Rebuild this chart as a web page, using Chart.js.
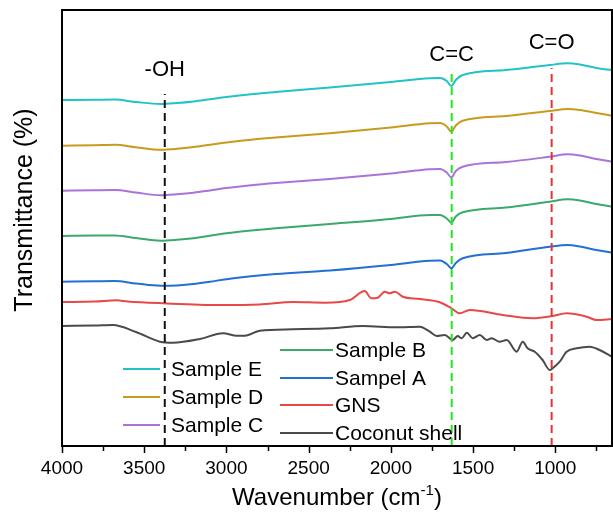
<!DOCTYPE html>
<html>
<head>
<meta charset="utf-8">
<script src="https://cdn.jsdelivr.net/npm/chart.js@4.4.0/dist/chart.umd.min.js"></script>
<style>
  html, body { margin: 0; padding: 0; background: #fff; }
  #wrap { width: 613px; height: 517px; position: relative; }
</style>
</head>
<body>
<div id="wrap"><canvas id="c" width="613" height="517"></canvas></div>
<script>
// ---- Data (arbitrary transmittance units, spectra are offset) ----
const seriesNames = ["Sample E", "Sample D", "Sample C", "Sample B", "Sampel A", "GNS", "Coconut shell"];
const seriesColors = ["#22c3c8", "#c89b1e", "#a874da", "#3ca96b", "#2170d6", "#e84848", "#4a4a4a"];

const samplesX = [4000, 3800, 3680, 3550, 3400, 3300, 3200, 3100, 3000, 2850, 2700, 2371, 2000, 1763, 1700, 1660, 1632, 1605, 1563, 1300, 1034, 925, 850, 750, 655];
const sampleE = [346, 346.2, 346.5, 344, 342, 343, 344.6, 346.8, 349, 351.8, 354, 358.5, 364, 367.7, 368, 365, 360, 366, 371, 376, 381, 382.7, 381.5, 378, 376];
const sampleD = [300.3, 300.8, 301.2, 298.8, 296.3, 297.2, 298.9, 301.2, 303.5, 306.3, 308.5, 312.8, 318.5, 322.7, 323, 319.5, 314.3, 320.5, 325.3, 330, 335, 337, 336, 333, 330.3];
const sampleC = [255.3, 255.8, 256, 253.5, 250.7, 251.7, 253.3, 255.6, 258, 260.8, 263, 267, 272.5, 276.7, 277, 273.5, 268.7, 275, 279.3, 284, 289.3, 291.7, 290.5, 287, 284.3];
const sampleB = [210, 210.4, 210.6, 208, 205.3, 206.2, 207.8, 210.2, 212.7, 215.5, 217.8, 222, 227, 231, 231, 227.5, 223.3, 229.5, 233.7, 238.5, 244.3, 246.7, 245.5, 242, 239.3];
const sampleA = [164.3, 164.7, 164.9, 162.5, 160.2, 160.6, 162, 164.3, 166.8, 169.7, 172, 175.5, 181, 185.3, 185.5, 182, 177.7, 183, 187.7, 193, 199.3, 201, 199.5, 196, 193.3];

const gnsX = [4000, 3800, 3668, 3600, 3386, 3040, 2800, 2596, 2400, 2250, 2159, 2118, 2079, 2037, 2007, 1976, 1927, 1824, 1702, 1631, 1581, 1520, 1320, 1137, 1016, 931, 809, 748, 655];
const gnsY = [144, 144.5, 145.7, 144.5, 142.7, 141, 141.5, 144, 143.3, 146, 155, 147.7, 148.3, 154.3, 152.7, 154.3, 149.3, 147, 143.7, 137.7, 132.7, 136, 131, 127.7, 130, 132.7, 129.3, 126, 127];

const cocoX = [4000, 3800, 3690, 3550, 3404, 3325, 3161, 3021, 2936, 2888, 2797, 2596, 2371, 2171, 1964, 1824, 1763, 1721, 1672, 1624, 1593, 1569, 1538, 1502, 1459, 1417, 1387, 1338, 1295, 1235, 1198, 1168, 1125, 1077, 1034, 1016, 973, 931, 870, 791, 730, 655];
const cocoY = [120, 120.5, 121, 114, 104.3, 103.3, 107, 112.7, 110.3, 110.3, 115.3, 116.7, 117.7, 120, 118.7, 119.3, 114.3, 110, 111, 106, 110, 107.7, 113.3, 107.7, 111, 106, 107.7, 104.3, 106, 94.3, 104.3, 97.7, 94.3, 86, 76, 77.7, 84.3, 94.3, 97.7, 99.3, 96, 89.3];

// Vertical marker lines: position, top, label, colour
const markerX = [3375, 1630, 1022];
const markerTop = [352, 376, 378];
const markerLabels = ["-OH", "C=C", "C=O"];
const markerLabelY = [376, 391, 403];
const markerColors = ["#111111", "#22e622", "#e03434"];

const xTickValues = [4000, 3500, 3000, 2500, 2000, 1500, 1000];
const xMinorValues = [3750, 3250, 2750, 2250, 1750, 1250, 750];

const FONT = "'Liberation Sans', Arial, sans-serif";

function pts(xs, ys) { return xs.map((x, i) => ({ x: x, y: ys[i] })); }

const curveData = [
  pts(samplesX, sampleE), pts(samplesX, sampleD), pts(samplesX, sampleC),
  pts(samplesX, sampleB), pts(samplesX, sampleA), pts(gnsX, gnsY), pts(cocoX, cocoY)
];

const datasets = [];
curveData.forEach((d, i) => {
  datasets.push({
    label: seriesNames[i], data: d, borderColor: seriesColors[i], borderWidth: 2,
    pointRadius: 0, cubicInterpolationMode: 'monotone', fill: false, order: 1
  });
});
markerX.forEach((mx, i) => {
  datasets.push({
    label: "marker" + i, data: [{ x: mx, y: 0 }, { x: mx, y: markerTop[i] }],
    borderColor: markerColors[i], borderWidth: 2, borderDash: [8, 5],
    pointRadius: 0, fill: false, order: 0
  });
});

const decor = {
  id: 'decor',
  afterDraw(chart) {
    const ctx = chart.ctx, a = chart.chartArea;
    const xs = chart.scales.x, ys = chart.scales.y;
    ctx.save();
    // frame
    ctx.strokeStyle = '#000'; ctx.lineWidth = 2;
    ctx.strokeRect(a.left, a.top, a.right - a.left, a.bottom - a.top);
    // ticks
    ctx.lineWidth = 1.5;
    xTickValues.concat(xMinorValues).forEach(v => {
      const px = Math.round(xs.getPixelForValue(v)) + 0.5;
      const len = xTickValues.includes(v) ? 7 : 5;
      ctx.beginPath(); ctx.moveTo(px, a.bottom); ctx.lineTo(px, a.bottom + len); ctx.stroke();
    });
    // marker labels
    ctx.fillStyle = '#000';
    ctx.font = '22px ' + FONT;
    ctx.textAlign = 'center'; ctx.textBaseline = 'middle';
    markerLabels.forEach((t, i) => {
      ctx.fillText(t, xs.getPixelForValue(markerX[i]), ys.getPixelForValue(markerLabelY[i]));
    });
    // x title with superscript
    const cx = (a.left + a.right) / 2, base = 505;
    ctx.textBaseline = 'alphabetic'; ctx.textAlign = 'left';
    ctx.font = '24px ' + FONT;
    const p1 = 'Wavenumber (cm', p3 = ')';
    const w1 = ctx.measureText(p1).width, w3 = ctx.measureText(p3).width;
    ctx.font = '15px ' + FONT;
    const p2 = '-1';
    const w2 = ctx.measureText(p2).width;
    let x0 = cx - (w1 + w2 + w3) / 2;
    ctx.font = '24px ' + FONT; ctx.fillText(p1, x0, base);
    ctx.font = '15px ' + FONT; ctx.fillText(p2, x0 + w1, base - 10);
    ctx.font = '24px ' + FONT; ctx.fillText(p3, x0 + w1 + w2, base);
    // y title
    ctx.save();
    ctx.translate(25, 210); ctx.rotate(-Math.PI / 2);
    ctx.textAlign = 'center'; ctx.textBaseline = 'middle';
    ctx.font = '25px ' + FONT;
    ctx.fillText('Transmittance (%)', 0, 0);
    ctx.restore();
    // legend (two columns)
    const col1 = [0, 1, 2], col2 = [3, 4, 5, 6];
    const rows1 = [369, 397, 425], rows2 = [350, 378, 405, 433];
    ctx.font = '21px ' + FONT; ctx.textBaseline = 'middle'; ctx.textAlign = 'left';
    ctx.lineWidth = 2;
    col1.forEach((s, k) => {
      ctx.strokeStyle = seriesColors[s];
      ctx.beginPath(); ctx.moveTo(123, rows1[k]); ctx.lineTo(160, rows1[k]); ctx.stroke();
      ctx.fillStyle = '#000'; ctx.fillText(seriesNames[s], 171, rows1[k] + 1);
    });
    col2.forEach((s, k) => {
      ctx.strokeStyle = seriesColors[s];
      ctx.beginPath(); ctx.moveTo(280, rows2[k]); ctx.lineTo(333, rows2[k]); ctx.stroke();
      ctx.fillStyle = '#000'; ctx.fillText(seriesNames[s], 335, rows2[k] + 1);
    });
    ctx.restore();
  }
};

new Chart(document.getElementById('c'), {
  type: 'line',
  data: { datasets: datasets },
  options: {
    responsive: false, animation: false, devicePixelRatio: 1,
    layout: { padding: { left: 62, right: 1, top: 10, bottom: 0 } },
    plugins: { legend: { display: false }, tooltip: { enabled: false } },
    scales: {
      x: {
        type: 'linear', reverse: true, min: 655, max: 4000,
        afterBuildTicks: (s) => { s.ticks = xTickValues.map(v => ({ value: v })); },
        afterFit: (s) => { s.height = 71; },
        grid: { display: false, drawTicks: false },
        border: { display: false },
        ticks: { color: '#000', font: { family: FONT, size: 19 }, padding: 11, maxRotation: 0, autoSkip: false,
                 callback: (v) => String(v) }
      },
      y: { display: false, min: 0, max: 436 }
    }
  },
  plugins: [decor]
});
</script>
</body>
</html>
